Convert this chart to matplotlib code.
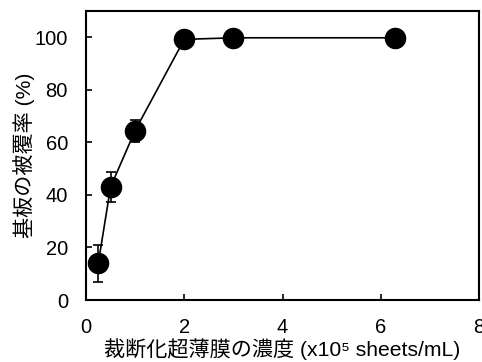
import numpy as np
import matplotlib
matplotlib.use('Agg')
import matplotlib.pyplot as plt

plt.rcParams['font.family'] = ['Liberation Sans', 'Noto Sans CJK JP', 'DejaVu Sans']

# concentration (x10^5 sheets/mL) vs coverage (%)
conc = [0.25, 0.5, 1.0, 2.0, 3.0, 6.3]
coverage = [14.0, 43.0, 64.5, 99.2, 99.8, 99.8]
err = [7.0, 5.6, 4.2, 0.5, 0.3, 0.3]

fig = plt.figure(figsize=(4.82, 3.62), dpi=100)
ax = fig.add_axes([86 / 482, 1 - 300 / 362, (479 - 86) / 482, (300 - 11) / 362])

ax.errorbar(conc, coverage, yerr=err, color='black', marker='o', markersize=14.5,
            linewidth=1.2, elinewidth=1.2, capsize=3.6, capthick=1.2)

ax.set_xlim(0, 8)
ax.set_ylim(0, 110)
ax.set_xticks([0, 2, 4, 6, 8])
ax.set_yticks([0, 20, 40, 60, 80, 100])
ax.tick_params(direction='in', length=4, width=1.2, labelsize=14.5, pad=13)
for s in ax.spines.values():
    s.set_linewidth(1.5)

ax.set_xlabel('裁断化超薄膜の濃度 (x10\u2075 sheets/mL)', fontsize=15.2, labelpad=1)
ax.set_ylabel('基板の被覆率 (%)', fontsize=15.2, labelpad=0)

fig.savefig('out.png', dpi=100)
